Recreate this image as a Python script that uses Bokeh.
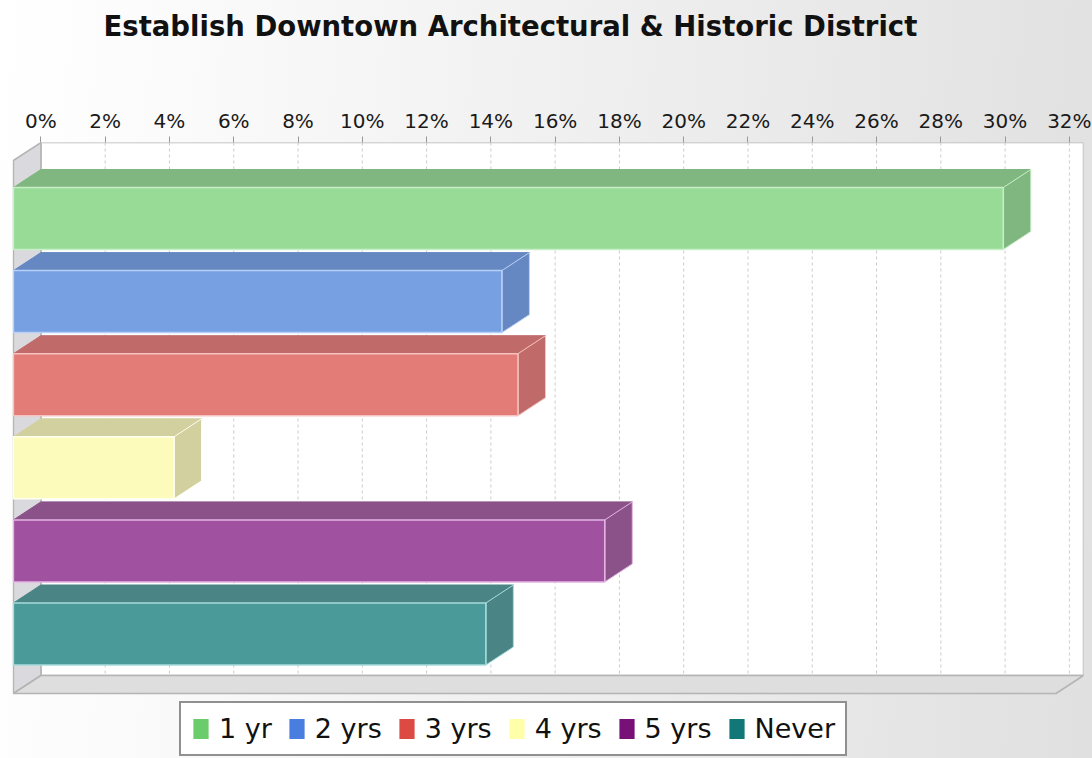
from bokeh.plotting import figure
from bokeh.models import Range1d, FixedTicker, PrintfTickFormatter, Legend, LegendItem
from bokeh.embed import file_html
from bokeh.resources import INLINE

# ---- data ----
categories = ["1 yr", "2 yrs", "3 yrs", "4 yrs", "5 yrs", "Never"]
values = [30.8, 15.2, 15.7, 5.0, 18.4, 14.7]
tick_values = [0, 2, 4, 6, 8, 10, 12, 14, 16, 18, 20, 22, 24, 26, 28, 30, 32]
title_text = "Establish Downtown Architectural & Historic District"

# ---- styles ----
front_colors = ["#97db97", "#76a0e2", "#e37b76", "#fdfbbb", "#a052a0", "#4b9a9a"]
shade_colors = ["#80b680", "#6688c2", "#c06a6a", "#d3d0a0", "#8a5288", "#4a8484"]
edge_colors = ["#c8efc8", "#b8d0f8", "#f6c4c0", "#fffff0", "#e4b4e4", "#a8dcdc"]
legend_colors = ["#6acc6a", "#4a7de0", "#dd4a44", "#ffffaa", "#771177", "#117777"]

W, H = 1092, 758
FL, FR, FT, FB = 12, 1083, 142, 758          # frame edges in px
FLOOR_PX = 693                                # front floor edge in px
PX_PER_PCT = 32.14
X0_PX = 40.4                                  # back-wall zero
x_start = (FL - X0_PX) / PX_PER_PCT
x_end = x_start + (FR - FL) / PX_PER_PCT
PX_PER_CAT = 83.1
y_top = -(218 - FT) / PX_PER_CAT
y_bottom = y_top + (FB - FT) / PX_PER_CAT
y_floor = y_top + (FLOOR_PX - FT) / PX_PER_CAT
DX = 27.5 / PX_PER_PCT                        # depth in x data units
DY = 18.0 / PX_PER_CAT                        # depth in y data units
BH = 62.0 / PX_PER_CAT                        # bar thickness

p = figure(width=W, height=H, output_backend="svg", toolbar_location=None,
           x_range=Range1d(x_start, x_end), y_range=Range1d(y_bottom, y_top),
           x_axis_location="above", y_axis_location=None,
           min_border_left=FL, min_border_right=W - FR,
           min_border_top=FT, min_border_bottom=0)
p.border_fill_color = None
p.background_fill_color = None
p.outline_line_color = None
p.styles = {"background": "linear-gradient(95deg, #ffffff 0%, #fbfbfb 15%, #e0e0e0 100%)"}

# title (two trailing blank lines lift the text to the top of the header)
p.title.text = title_text + "\n\n"
p.title.text_font = "DejaVu Sans"
p.title.text_font_style = "bold"
p.title.text_font_size = "27.5px"
p.title.text_color = "#111111"
p.title.align = "left"
p.title.offset = 91
p.title.standoff = 0

# axis
ax = p.xaxis[0]
ax.ticker = FixedTicker(ticks=tick_values)
ax.formatter = PrintfTickFormatter(format="%d%%")
ax.axis_line_color = None
ax.major_tick_line_color = "#999999"
ax.major_tick_out = 6
ax.major_tick_in = 0
ax.minor_tick_line_color = None
ax.major_label_text_font = "DejaVu Sans"
ax.major_label_text_font_size = "20px"
ax.major_label_text_color = "#1a1a1a"
ax.major_label_standoff = 4

p.xgrid.grid_line_color = None
p.ygrid.grid_line_color = None

# walls
wall_bottom = y_floor - DY
p.quad(left=[0], right=[x_end], top=[y_top], bottom=[wall_bottom],
       fill_color="white", line_color="#b4b4b4", line_width=1.5)
nt = len(tick_values)
p.segment(x0=tick_values, x1=tick_values, y0=[y_top] * nt, y1=[wall_bottom] * nt,
          line_color="#cccccc", line_dash="3 3", line_width=1)
p.patch([-DX, 0, 0, -DX], [y_top + DY, y_top, wall_bottom, y_floor],
        fill_color="#dadade", line_color="#b4b4b4", line_width=1.5)
p.patch([-DX, x_end - DX, x_end, 0], [y_floor, y_floor, wall_bottom, wall_bottom],
        fill_color="#dedede", line_color="#b4b4b4", line_width=1.5)

# bars
n = len(categories)
ypos = list(range(n))
top_xs = [[-DX, v - DX, v, 0] for v in values]
top_ys = [[y - BH / 2, y - BH / 2, y - BH / 2 - DY, y - BH / 2 - DY] for y in ypos]
side_xs = [[v - DX, v, v, v - DX] for v in values]
side_ys = [[y - BH / 2, y - BH / 2 - DY, y + BH / 2 - DY, y + BH / 2] for y in ypos]

p.patches(top_xs, top_ys, fill_color=shade_colors, line_color=shade_colors, line_width=1)
p.patches(side_xs, side_ys, fill_color=shade_colors, line_color=edge_colors, line_width=1)
p.quad(left=[-DX] * n, right=[v - DX for v in values],
       top=[y - BH / 2 for y in ypos], bottom=[y + BH / 2 for y in ypos],
       fill_color=front_colors, line_color=edge_colors, line_width=1.5)

# legend (hidden proxy renderers carry the saturated legend colours)
items = []
for cat, col, v, y in zip(categories, legend_colors, values, ypos):
    r = p.quad(left=[-DX], right=[v - DX], top=[y - BH / 2], bottom=[y + BH / 2],
               fill_color=col, line_color=None, visible=False)
    items.append(LegendItem(label=cat, renderers=[r]))
legend = Legend(items=items, orientation="horizontal", location=(167, 2))
legend.label_text_font = "DejaVu Sans"
legend.label_text_font_size = "27px"
legend.label_text_color = "#111111"
legend.glyph_width = 19
legend.glyph_height = 25
legend.label_standoff = 9
legend.spacing = 15
legend.padding = 10
legend.margin = 0
legend.border_line_color = "#222222"
legend.border_line_width = 2
legend.background_fill_color = "white"
legend.background_fill_alpha = 1.0
p.add_layout(legend, "center")

open("out.html", "w").write(file_html(p, INLINE))
